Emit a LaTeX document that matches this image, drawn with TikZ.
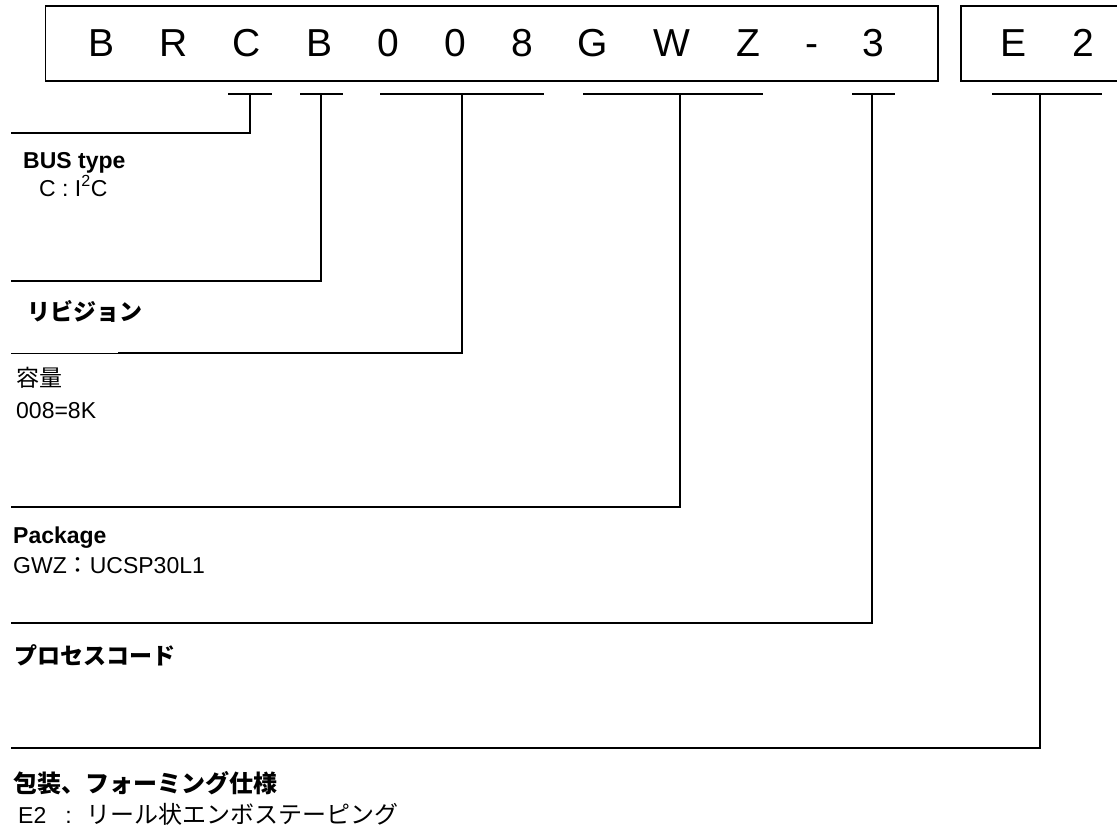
\documentclass[tikz,border=0pt]{standalone}
\usepackage{fontspec}
\setmainfont{Liberation Sans}
\newfontfamily\cjk{Noto Sans CJK JP}
\begin{document}
\begin{tikzpicture}[x=1pt, y=-1pt,
  code/.style={anchor=base, inner sep=0pt, font=\fontsize{39}{39}\selectfont},
  note/.style={anchor=base west, inner sep=0pt, font=\fontsize{23}{23}\selectfont},
  title/.style={note, font=\fontsize{23}{23}\selectfont\bfseries},
  frame/.style={line width=1.7pt},
  bar/.style={line width=1.7pt},
  lead/.style={line width=1.5pt}]
  \useasboundingbox (0,0) rectangle (1117,827);

  % Part number frames
  \draw[frame] (45.5,6) rectangle (938,81);
  \draw[frame] (961,6) rectangle (1130,81);

  % Characters of the part number
  \foreach \ch/\xx [count=\i] in {B/102, R/174, C/247, B/320, 0/388, 0/455, 8/522,
      G/593, W/672, Z/748, -/812, 3/873, E/1013, 2/1083}
    \node[code] (ch\i) at (\xx,56) {\ch};

  % Field bars and leaders to the left margin
  \foreach \name/\xa/\xb/\xm/\xe/\yy in {bus/228/272/250/11/133, rev/300/343/321/11/281,
      cap/380/544/462/118/353, pkg/583/763/680/11/507,
      proc/852/895/872/11/623, pack/992/1102/1040/11/748} {
    \draw[bar] (\xa,94) -- (\xb,94);
    \coordinate (\name-top) at (\xm,94);
    \coordinate (\name-end) at (\xe,\yy);
    \draw[lead] (\name-top) |- (\name-end);
  }
  % thin tail of the capacity leader
  \coordinate (cap-tail) at (11,353);
  \draw[line width=0.7pt] (cap-end) -- (cap-tail);

  % Field descriptions
  \node[title] (bus-title) at (23,168) {BUS type};
  \node[note] (bus-val) at (39,196) {C : I\textsuperscript{2}C};

  \node[title] (rev-title) at (27,320) {\cjk\bfseries リビジョン};

  \node[note] (cap-title) at (16,386) {\cjk 容量};
  \node[note] (cap-val) at (16,418) {008=8K};

  \node[title] (pkg-title) at (13,543) {Package};
  \node[note] (pkg-val) at (13,573) {GWZ{\cjk ：}UCSP30L1};

  \node[title] (proc-title) at (14,664) {\cjk\bfseries プロセスコード};

  \node[title, font=\fontsize{24}{24}\selectfont] (pack-title) at (13,792)
    {\cjk\bfseries 包装、フォーミング仕様};
  \node[note] (pack-val) at (18,823)
    {E2\hspace{19pt}:\hspace{15pt}{\cjk\fontsize{24}{24}\selectfont リール状エンボステーピング}};
\end{tikzpicture}
\end{document}
